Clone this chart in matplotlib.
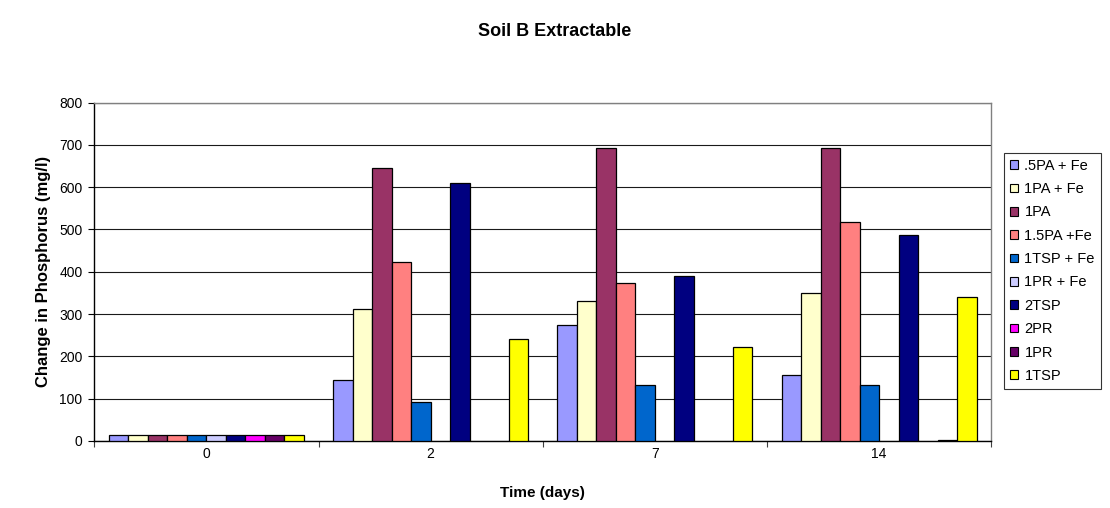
import numpy as np
import matplotlib
matplotlib.use("Agg")
import matplotlib.pyplot as plt
from matplotlib.patches import Patch

plt.rcParams['font.family'] = ['Liberation Sans', 'DejaVu Sans']

days = ["0", "2", "7", "14"]
series = [".5PA + Fe", "1PA + Fe", "1PA", "1.5PA +Fe", "1TSP + Fe",
          "1PR + Fe", "2TSP", "2PR", "1PR", "1TSP"]
colors = ["#9999FF", "#FFFFCC", "#993366", "#FF8080", "#0066CC",
          "#CCCCFF", "#000080", "#FF00FF", "#660066", "#FFFF00"]

nan = np.nan
pa05_fe = [13, 145, 275, 157]
pa1_fe = [13, 313, 330, 349]
pa1 = [13, 646, 693, 693]
pa15_fe = [13, 424, 374, 518]
tsp1_fe = [13, 93, 133, 133]
pr1_fe = [13, nan, nan, nan]
tsp2 = [13, 610, 390, 486]
pr2 = [13, nan, nan, nan]
pr1 = [13, nan, nan, 2]
tsp1 = [13, 241, 222, 340]

values = [pa05_fe, pa1_fe, pa1, pa15_fe, tsp1_fe, pr1_fe, tsp2, pr2, pr1, tsp1]

fig = plt.figure(figsize=(11.10, 5.08), dpi=100)
ax = fig.add_axes([0.085, 0.1319, 0.808, 0.6663])

n = len(series)
width = 1.0 / (n + 1.5)
x = np.arange(len(days))
for i, (vals, col) in enumerate(zip(values, colors)):
    ax.bar(x + (i - (n - 1) / 2) * width, vals, width=width, color=col,
           edgecolor="black", linewidth=0.9, zorder=3)

ax.set_xlim(-0.5, len(days) - 0.5)
ax.set_ylim(0, 800)
ax.set_yticks(np.arange(0, 801, 100))
ax.set_xticks(x)
ax.set_xticklabels(days)
ax.set_xticks(np.arange(-0.5, len(days), 1.0), minor=True)
ax.tick_params(axis="x", which="major", length=0, pad=4, labelsize=10)
ax.tick_params(axis="x", which="minor", length=4, width=0.8, color="#404040")
ax.tick_params(axis="y", length=4, width=0.8, labelsize=10, pad=4.5)

ax.yaxis.grid(True, color="#1a1a1a", linewidth=0.8, zorder=0)
ax.set_axisbelow(True)
for side in ("top", "right"):
    ax.spines[side].set_color("#808080")
    ax.spines[side].set_linewidth(1.0)
for side in ("left", "bottom"):
    ax.spines[side].set_color("black")
    ax.spines[side].set_linewidth(1.0)

ax.set_xlabel("Time (days)", fontsize=11, fontweight="bold", labelpad=18)
ax.set_ylabel("Change in Phosphorus (mg/l)", fontsize=12, fontweight="bold", labelpad=6)
fig.text(0.5, 1 - 31 / 508, "Soil B Extractable", ha="center", va="center",
         fontsize=13, fontweight="bold")

handles = [Patch(facecolor=c, edgecolor="black", linewidth=0.8) for c in colors]
leg = fig.legend(handles, series, loc="upper left",
                 bbox_to_anchor=(1004 / 1110, 1 - 153 / 508),
                 fontsize=10.5, frameon=True, fancybox=False, borderpad=0.4,
                 handlelength=0.55, handleheight=0.55, handletextpad=0.45,
                 labelspacing=0.64, borderaxespad=0)
leg.get_frame().set_edgecolor("black")
leg.get_frame().set_linewidth(0.8)

fig.savefig("out.png", dpi=100)
